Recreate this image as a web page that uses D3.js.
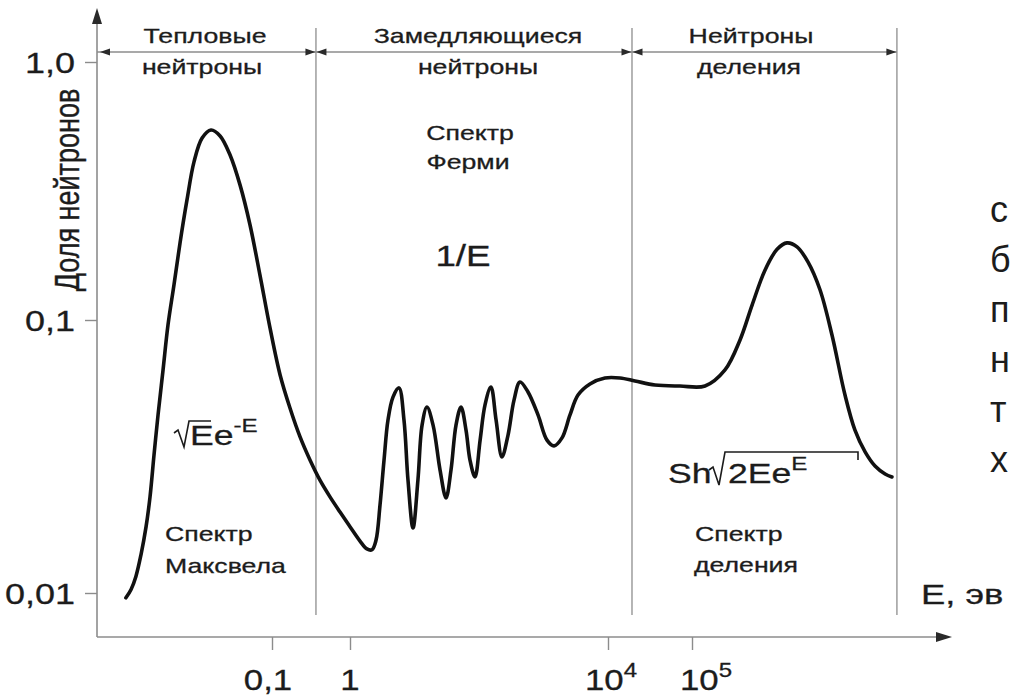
<!DOCTYPE html>
<html><head><meta charset="utf-8">
<script src="https://cdn.jsdelivr.net/npm/d3@7"></script>
<style>
html,body{margin:0;padding:0;background:#fff;overflow:hidden}
svg{display:block}
text{font-family:"Liberation Sans",Arial,sans-serif;fill:#1c1c1c;stroke:#1c1c1c;stroke-width:0.3px}
</style></head><body>
<svg id="c" width="1013" height="698"></svg>
<script>
// ---- data (energy in eV, fraction of neutrons) ----
const energy = [0.00134,0.00156,0.00180,0.00209,0.00243,0.00273,0.00307,0.00346,0.00401,0.00464,
  0.00554,0.00662,0.00813,0.0100,0.0127,0.0165,0.0216,0.0290,0.0389,0.0522,
  0.0702,0.0943,0.127,0.170,0.229,0.307,0.412,0.554,0.745,1.00,
  1.43,1.83,2.19,2.53,2.92,3.37,3.88,4.64,5.75,6.87,7.93,
  9.48,11.3,13.1,15.6,19.4,24.9,30.8,36.8,44.0,52.6,
  62.9,72.5,86.7,104,124,153,184,227,282,349,
  432,575,822,1133,1455,1936,2576,3428,5260,8980,
  13900,20960,36270,71900,142900,247000,373000,518000,739000,1.03e6,
  1.35e6,1.78e6,2.40e6,3.34e6,4.64e6,6.63e6,8.71e6,1.15e7,1.51e7,1.99e7,2.40e7];
const fraction = [0.0096,0.0103,0.0115,0.0138,0.0175,0.0225,0.0320,0.0449,0.0656,0.0958,
  0.137,0.199,0.292,0.410,0.507,0.545,0.517,0.436,0.334,0.234,
  0.149,0.0935,0.0629,0.0476,0.0373,0.0307,0.0259,0.0225,0.0198,0.0175,
  0.0155,0.0145,0.0144,0.0156,0.0210,0.0307,0.0430,0.0522,0.0564,0.0430,0.0259,
  0.0173,0.0259,0.0412,0.0480,0.0412,0.0282,0.0223,0.0282,0.0412,0.0480,
  0.0395,0.0307,0.0266,0.0363,0.0489,0.0568,0.0430,0.0315,0.0379,0.0509,
  0.0593,0.0545,0.0449,0.0363,0.0346,0.0370,0.0449,0.0531,0.0583,0.0613,
  0.0613,0.0598,0.0578,0.0573,0.0573,0.0656,0.0845,0.114,0.156,0.188,
  0.199,0.192,0.168,0.131,0.0881,0.0531,0.0395,0.0329,0.0292,0.0273,0.0266];
const xTicks = [0.1, 1, 1e4, 1e5];
const xTickBase = ["0,1", "1", "10", "10"];
const xTickExp = ["", "", "4", "5"];
const yTicks = [0.01, 0.1, 1];
const yTickLabels = ["0,01", "0,1", "1,0"];
const regionBounds = [0.366, 1.93e4, 2.75e7];
const regionTitles = [["Тепловые","нейтроны"],["Замедляющиеся","нейтроны"],["Нейтроны","деления"]];
const sideText = ["с","б","п","н","т","х"];

// ---- layout ----
const svg = d3.select("#c");
const x = d3.scaleLog().domain([0.1, 1, 1e4, 1e5]).range([272, 350, 608, 692]);
const y = d3.scaleLog().domain([0.01, 0.1, 1]).range([593, 320, 62]);
const X0 = 97, Y0 = 637, K = 1.27;
const gray = "#8c8c8c", dark = "#2a2a2a";
const xLabelDx = [-4, 0, 3, 14];

function stext(parent, px, py, str, size, anchor, k) {
  const g = parent.append("g").attr("transform", `translate(${px},${py}) scale(${k===undefined?K:k},1)`);
  return g.append("text").attr("font-size", size).attr("text-anchor", anchor || "start").text(str);
}
function tri(tx, ty, dx, dy, len, hw) {
  const bx = tx - dx*len, by = ty - dy*len;
  const px = -dy*hw, py = dx*hw;
  svg.append("path").attr("d", `M${tx},${ty}L${bx+px},${by+py}L${bx-px},${by-py}Z`).attr("fill", dark);
}

// region boundary lines
regionBounds.forEach(b => {
  svg.append("line").attr("x1", x(b)).attr("x2", x(b)).attr("y1", 28).attr("y2", 615)
    .attr("stroke", "#a3a3a3").attr("stroke-width", 1.6);
});
// top bracket
const bY = 52;
svg.append("line").attr("x1", X0).attr("x2", x(regionBounds[2])).attr("y1", bY).attr("y2", bY)
  .attr("stroke", gray).attr("stroke-width", 1.5);
tri(X0 + 3, bY, -1, 0, 10, 3.6);
regionBounds.forEach((b, i) => {
  tri(x(b) - 0.5, bY, 1, 0, 10, 3.6);
  if (i < 2) tri(x(b) + 0.5, bY, -1, 0, 10, 3.6);
});
const titleCenters = [205, 478, 751];
regionTitles.forEach((t, i) => {
  stext(svg, titleCenters[i], 43, t[0], 21, "middle");
  stext(svg, titleCenters[i] - (i === 0 ? 3 : (i === 2 ? 2 : 0)), 74, t[1], 21, "middle");
});

// axes
svg.append("line").attr("x1", X0).attr("x2", X0).attr("y1", Y0).attr("y2", 20).attr("stroke", gray).attr("stroke-width", 1.6);
tri(X0, 8, 0, -1, 16, 5);
svg.append("line").attr("x1", X0).attr("x2", 940).attr("y1", Y0).attr("y2", Y0).attr("stroke", gray).attr("stroke-width", 1.6);
tri(952, Y0, 1, 0, 16, 5);

const xAxis = svg.append("g").attr("transform", `translate(0,${Y0})`)
  .call(d3.axisBottom(x).tickValues(xTicks).tickSize(13).tickFormat(() => ""));
xAxis.select(".domain").remove();
xAxis.selectAll(".tick line").attr("stroke", gray).attr("stroke-width", 1.4);

const yAxis = svg.append("g").attr("transform", `translate(${X0},0)`)
  .call(d3.axisLeft(y).tickValues(yTicks).tickSize(12).tickFormat(() => ""));
yAxis.select(".domain").remove();
yAxis.selectAll(".tick line").attr("stroke", gray).attr("stroke-width", 1.4);

yTicks.forEach((t, i) => stext(svg, 75, y(t) + 11, yTickLabels[i], 30, "end", 1.2));
xTicks.forEach((t, i) => {
  const g = svg.append("g").attr("transform", `translate(${x(t) + xLabelDx[i]},690) scale(1.2,1)`);
  const tx = g.append("text").attr("font-size", 29).attr("text-anchor", "middle");
  tx.append("tspan").text(xTickBase[i]);
  if (xTickExp[i]) tx.append("tspan").attr("dy", -13).attr("font-size", 20).text(xTickExp[i]);
});

// axis titles
svg.append("g").attr("transform", `translate(79,190) scale(${K},1) rotate(-90)`)
  .append("text").attr("font-size", 27).attr("text-anchor", "middle").text("Доля нейтронов");
stext(svg, 921, 604, "Е, эв", 28, "start", 1.3);

// annotations
stext(svg, 470, 140, "Спектр", 21, "middle");
stext(svg, 468, 169, "Ферми", 21, "middle");
stext(svg, 463, 266, "1/E", 29, "middle");
stext(svg, 165, 541, "Спектр", 21, "start");
stext(svg, 165, 573, "Максвела", 21, "start");
stext(svg, 695, 541, "Спектр", 21, "start");
stext(svg, 694, 572, "деления", 21, "start");

// formula sqrt(E) e^-E
(function(){
  const t = stext(svg, 190, 445, "", 28, "start");
  t.append("tspan").text("Ee");
  t.append("tspan").attr("dy", -13).attr("font-size", 19).text("-E");
  svg.append("path").attr("d", `M174,433 L178,430 L184,447 L189,421 L211,421`)
    .attr("fill", "none").attr("stroke", "#1c1c1c").attr("stroke-width", 1.6);
})();
// formula Sh sqrt(2Ee^E)
(function(){
  stext(svg, 668, 483, "Sh", 28, "start");
  const t = stext(svg, 728, 483, "", 28, "start");
  t.append("tspan").text("2Ee");
  t.append("tspan").attr("dy", -13).attr("font-size", 19).text("E");
  svg.append("path").attr("d", `M709,470 L713,467 L719,485 L725,452 L858,452 L858,460`)
    .attr("fill", "none").attr("stroke", "#1c1c1c").attr("stroke-width", 1.6);
})();

// side text (slide text cut by the page edge)
sideText.forEach((s, i) => {
  svg.append("text").attr("x", 990).attr("y", 222 + i*50).attr("font-size", 36).style("stroke-width", 0).text(s);
});

// curve
const pts = energy.map((e, i) => [e, fraction[i]]);
svg.append("path").datum(pts)
  .attr("d", d3.line().x(d => x(d[0])).y(d => y(d[1])).curve(d3.curveCatmullRom.alpha(0.5)))
  .attr("fill", "none").attr("stroke", "#111").attr("stroke-width", 3.6)
  .attr("stroke-linejoin", "round").attr("stroke-linecap", "round");
</script>
</body></html>
